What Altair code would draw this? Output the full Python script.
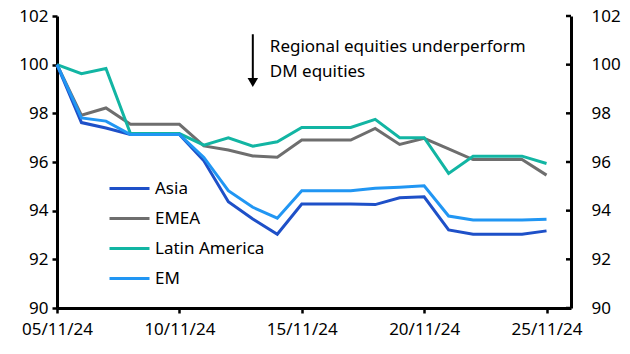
import altair as alt
import pandas as pd

dates = ["2024-11-05", "2024-11-06", "2024-11-07", "2024-11-08", "2024-11-09",
         "2024-11-10", "2024-11-11", "2024-11-12", "2024-11-13", "2024-11-14",
         "2024-11-15", "2024-11-16", "2024-11-17", "2024-11-18", "2024-11-19",
         "2024-11-20", "2024-11-21", "2024-11-22", "2024-11-23", "2024-11-24",
         "2024-11-25"]

asia = [100.0, 97.62, 97.40, 97.13, 97.13, 97.13, 96.05, 94.37, 93.66, 93.03,
        94.27, 94.27, 94.27, 94.25, 94.53, 94.57, 93.21, 93.03, 93.03, 93.03, 93.17]
emea = [100.0, 97.92, 98.22, 97.55, 97.55, 97.55, 96.66, 96.49, 96.25, 96.20,
        96.90, 96.90, 96.90, 97.38, 96.72, 96.97, 96.54, 96.10, 96.10, 96.10, 95.46]
latam = [100.0, 99.63, 99.84, 97.17, 97.17, 97.17, 96.69, 96.99, 96.65, 96.83,
         97.42, 97.42, 97.42, 97.75, 97.00, 97.00, 95.53, 96.24, 96.24, 96.24, 95.94]
em = [100.0, 97.81, 97.68, 97.13, 97.13, 97.13, 96.19, 94.82, 94.14, 93.69,
      94.82, 94.82, 94.82, 94.92, 94.96, 95.02, 93.78, 93.62, 93.62, 93.62, 93.65]

series_names = ["Asia", "EMEA", "Latin America", "EM"]
series_colors = ["#1E50C8", "#6E6E6E", "#12B5A3", "#2196F3"]
draw_order = ["EMEA", "Latin America", "Asia", "EM"]

y_ticks = [90, 92, 94, 96, 98, 100, 102]
x_tick_days = [5, 10, 15, 20, 25]

annot_lines = ["Regional equities underperform", "DM equities"]

FONT = "Noto Sans"
FS = 17

values = {"Asia": asia, "EMEA": emea, "Latin America": latam, "EM": em}
rows = []
for name in series_names:
    for d, v in zip(dates, values[name]):
        rows.append({"date": d, "series": name, "value": v})
df = pd.DataFrame(rows)

xscale = alt.Scale(type="utc", domain=[alt.DateTime(year=2024, month=11, date=5, utc=True),
                                       alt.DateTime(year=2024, month=11, date=26, utc=True)])
yscale = alt.Scale(domain=[90, 102], nice=False, zero=False)

xaxis = alt.Axis(values=[alt.DateTime(year=2024, month=11, date=d, utc=True) for d in x_tick_days],
                 format="%d/%m/%y", title=None, grid=False, domainWidth=3, domainColor="black",
                 tickColor="black", tickWidth=2.5, tickSize=5, labelFontSize=FS, labelPadding=8,
                 labelColor="black", labelFont=FONT, labelFlush=False, labelOverlap=False)
left_axis = alt.Axis(values=y_ticks, title=None, grid=False, domainWidth=3, domainColor="black",
                     tickColor="black", tickWidth=2.5, tickSize=5, labelFontSize=FS, labelPadding=4,
                     labelColor="black", labelFont=FONT)
right_axis = alt.Axis(values=y_ticks, title=None, grid=False, orient="right", domainWidth=3,
                      domainColor="black", ticks=True, tickSize=17, tickOpacity=0,
                      labelFontSize=FS, labelPadding=3, labelColor="black", labelFont=FONT)

color = alt.Color("series:N", scale=alt.Scale(domain=series_names, range=series_colors),
                  legend=alt.Legend(title=None, orient="none", legendX=51, legendY=151,
                                    symbolType="stroke", symbolSize=1600, symbolStrokeWidth=3,
                                    labelFontSize=FS, labelFont=FONT, labelColor="black",
                                    labelOffset=4, rowPadding=-11.7, padding=0))

line_layers = []
for name in draw_order:
    line_layers.append(
        alt.Chart(df).transform_filter(alt.datum.series == name).mark_line(strokeWidth=3).encode(
            x=alt.X("date:T", scale=xscale, axis=xaxis),
            y=alt.Y("value:Q", scale=yscale, axis=left_axis),
            color=color,
        )
    )

annot_x = pd.DataFrame({"date": ["2024-11-13"], "y1": [101.25], "y2": [99.4], "yh": [99.27],
                        "yt": [100.72]})
arrow = alt.Chart(annot_x).mark_rule(color="black", strokeWidth=2).encode(
    x=alt.X("date:T", scale=xscale), y=alt.Y("y1:Q", scale=yscale), y2="y2:Q")
head = alt.Chart(annot_x).mark_point(shape="triangle-down", filled=True, color="black",
                                     size=110, opacity=1).encode(
    x=alt.X("date:T", scale=xscale), y=alt.Y("yh:Q", scale=yscale))
label = alt.Chart(annot_x).mark_text(text=annot_lines, align="left", baseline="middle", dx=17,
                                     fontSize=FS, font=FONT, color="black", lineHeight=25).encode(
    x=alt.X("date:T", scale=xscale), y=alt.Y("yt:Q", scale=yscale))

main = alt.layer(*line_layers, arrow, head, label)

tick_df = pd.DataFrame({"t": y_ticks})
right = alt.Chart(tick_df).mark_rule(color="black", strokeWidth=2.5).encode(
    y=alt.Y("t:Q", scale=yscale, axis=right_axis),
    x=alt.value(509), x2=alt.value(514))

chart = alt.layer(main, right).resolve_scale(y="independent").properties(
    width=514, height=292,
    autosize=alt.AutoSizeParams(type="none"),
    padding={"left": 57, "top": 16, "right": 59, "bottom": 46},
    background="white",
).configure_view(stroke=None)

chart.save("out.html", embed_options={"renderer": "svg", "actions": False})
